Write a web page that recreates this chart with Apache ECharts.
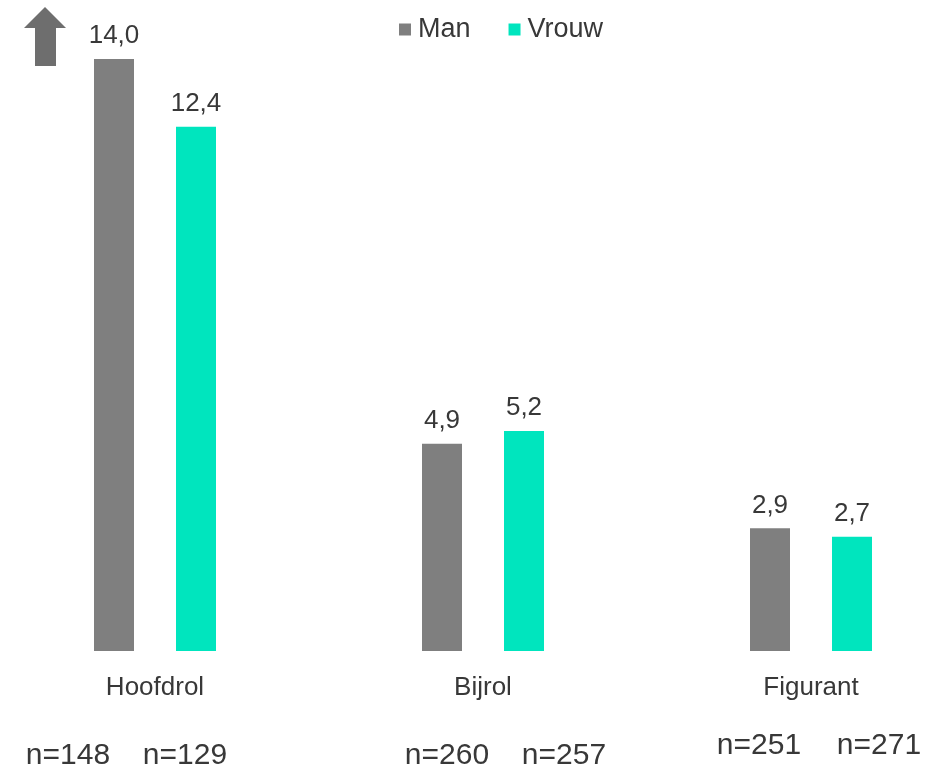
<!DOCTYPE html>
<html>
<head>
<meta charset="utf-8">
<script src="https://cdn.jsdelivr.net/npm/echarts@6/dist/echarts.min.js"></script>
<style>
  html, body { margin: 0; padding: 0; background: #ffffff; }
  #chart { width: 949px; height: 769px; }
</style>
</head>
<body>
<div id="chart"></div>
<script>
// Roles and scores per gender
const categories = ['Hoofdrol', 'Bijrol', 'Figurant'];
const manValues = [14.0, 4.9, 2.9];
const vrouwValues = [12.4, 5.2, 2.7];
// Sample sizes per role: [man, vrouw]
const sampleSizes = [[148, 129], [260, 257], [251, 271]];

// Placement of the sample-size captions (centre x, centre y)
const sampleLayout = [
  [[68, 756], [185, 756]],
  [[447, 756], [564, 756]],
  [[759, 746], [879, 746]]
];

const FONT = '"Liberation Sans", Arial, sans-serif';
const TEXT = '#383838';
const GREY = '#7f7f7f';
const TEAL = '#00e5be';

const fmt = v => v.toFixed(1).replace('.', ',');

const chart = echarts.init(document.getElementById('chart'), null, { renderer: 'canvas' });

const graphics = [
  // Upward arrow in the top-left corner
  {
    type: 'polygon',
    shape: { points: [[45, 7], [66, 28], [56, 28], [56, 66], [35, 66], [35, 28], [24, 28]] },
    style: { fill: '#6e6e6e' }
  }
];
sampleSizes.forEach((pair, i) => {
  pair.forEach((n, j) => {
    graphics.push({
      type: 'text',
      x: sampleLayout[i][j][0],
      y: sampleLayout[i][j][1],
      style: {
        text: 'n=' + n,
        font: '30px ' + FONT,
        fill: TEXT,
        align: 'center',
        verticalAlign: 'middle'
      }
    });
  });
});

const valueLabel = {
  show: true,
  position: 'top',
  distance: 10,
  fontFamily: FONT,
  fontSize: 26,
  color: TEXT,
  formatter: p => fmt(p.value)
};

chart.setOption({
  animation: false,
  backgroundColor: '#ffffff',
  textStyle: { fontFamily: FONT },
  legend: {
    data: ['Man', 'Vrouw'],
    left: 394,
    top: 11,
    itemWidth: 12,
    itemHeight: 12,
    itemGap: 38,
    icon: 'rect',
    textStyle: { fontFamily: FONT, fontSize: 27, color: TEXT, padding: [0, 0, 0, 2] }
  },
  grid: {
    left: -9,
    width: 984,
    top: 59,
    bottom: 118,
    containLabel: false,
    outerBoundsMode: 'none'
  },
  xAxis: {
    type: 'category',
    data: categories,
    axisLine: { show: false },
    axisTick: { show: false },
    axisLabel: { margin: 24, fontFamily: FONT, fontSize: 26, color: TEXT }
  },
  yAxis: {
    type: 'value',
    min: 0,
    max: 14,
    show: false,
    splitLine: { show: false }
  },
  series: [
    {
      name: 'Man',
      type: 'bar',
      data: manValues,
      barWidth: 40,
      barGap: '105%',
      itemStyle: { color: GREY },
      label: valueLabel
    },
    {
      name: 'Vrouw',
      type: 'bar',
      data: vrouwValues,
      barWidth: 40,
      itemStyle: { color: TEAL },
      label: valueLabel
    }
  ],
  graphic: graphics
});
</script>
</body>
</html>
